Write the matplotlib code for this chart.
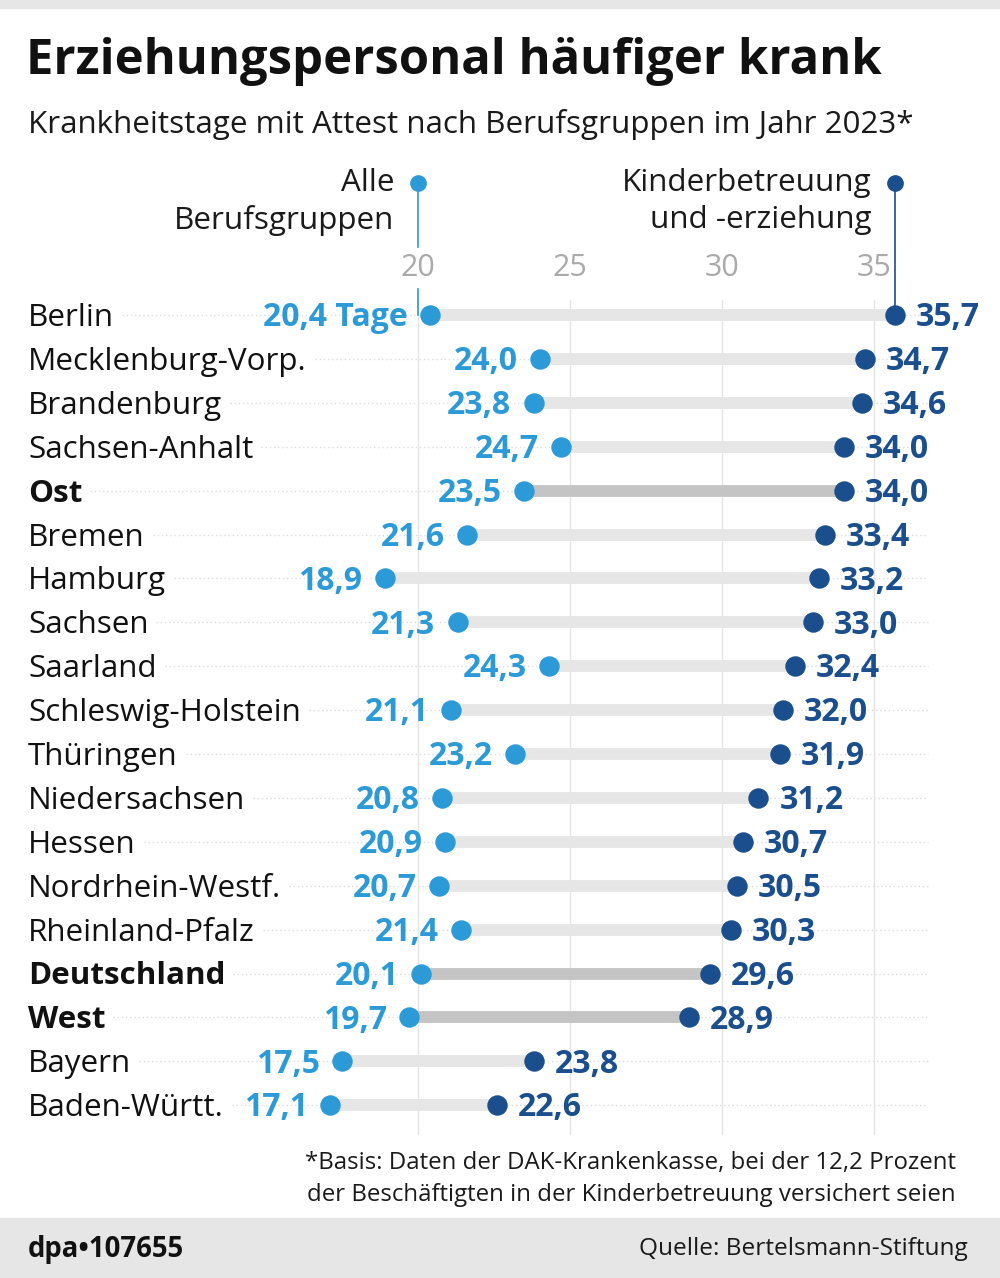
import matplotlib
matplotlib.use("Agg")
import matplotlib.pyplot as plt
from matplotlib.transforms import blended_transform_factory, ScaledTranslation
import numpy as np

plt.rcParams["font.family"] = ["Open Sans", "DejaVu Sans"]

regions = ["Berlin", "Mecklenburg-Vorp.", "Brandenburg", "Sachsen-Anhalt", "Ost",
           "Bremen", "Hamburg", "Sachsen", "Saarland", "Schleswig-Holstein",
           "Thüringen", "Niedersachsen", "Hessen", "Nordrhein-Westf.",
           "Rheinland-Pfalz", "Deutschland", "West", "Bayern", "Baden-Württ."]
alle = [20.4, 24.0, 23.8, 24.7, 23.5, 21.6, 18.9, 21.3, 24.3, 21.1,
        23.2, 20.8, 20.9, 20.7, 21.4, 20.1, 19.7, 17.5, 17.1]
kita = [35.7, 34.7, 34.6, 34.0, 34.0, 33.4, 33.2, 33.0, 32.4, 32.0,
        31.9, 31.2, 30.7, 30.5, 30.3, 29.6, 28.9, 23.8, 22.6]
totals = ["Ost", "Deutschland", "West"]
ticks = [20, 25, 30, 35]

LIGHT = "#2c9ad6"
DARK = "#1a4e8c"
TXT = "#1a1a1a"
W, H = 1000, 1278

fig = plt.figure(figsize=(W / 100, H / 100), dpi=100)
ax = fig.add_axes([0, 0, 1, 1])
# x: 20 -> 418 px, 30.4 px per unit ; rows: 315 px + 43.9 px per row
ppu = 30.4
ax.set_xlim(20 - 418 / ppu, 20 + (W - 418) / ppu)
ax.set_ylim((H - 315) / 43.9, -315 / 43.9)
ax.axis("off")

def fy(px):
    return 1 - px / H

def fx(px):
    return px / W

# grey bands top and bottom
fig.patches.append(plt.Rectangle((0, fy(8)), 1, 8 / H, transform=fig.transFigure,
                                 color="#e6e6e6", zorder=0))
fig.patches.append(plt.Rectangle((0, 0), 1, 60 / H, transform=fig.transFigure,
                                 color="#e6e6e6", zorder=0))

fig.text(fx(26), fy(62), "Erziehungspersonal häufiger krank", fontsize=35.3,
         fontweight="bold", va="center", ha="left", color="#111111")
fig.text(fx(28), fy(124), "Krankheitstage mit Attest nach Berufsgruppen im Jahr 2023*",
         fontsize=22.6, va="center", ha="left", color=TXT)

# gridlines + tick labels
for t in ticks:
    ax.plot([t, t], [-0.35, len(regions) - 0.35], color="#e4e4e4", lw=1, zorder=1)
    ax.text(t, -1.07, str(t), ha="center", va="center", fontsize=22,
            color="#aaaaaa")

# legend
yl1, yl2 = (183 - 315) / 43.9, (220 - 315) / 43.9
ax.plot([20, 20], [yl1, -1.55], color=LIGHT, lw=1.2, zorder=2)
ax.plot([20, 20], [-0.6, 0], color=LIGHT, lw=1.2, zorder=2)
ax.plot([35.7, 35.7], [yl1, 0], color=DARK, lw=1.2, zorder=2)
ax.plot([20], [yl1], "o", color=LIGHT, ms=11, zorder=3)
ax.plot([35.7], [yl1], "o", color=DARK, ms=11, zorder=3)
ax.annotate("Alle", (20, yl1), xytext=(-17, 0), textcoords="offset points",
            ha="right", va="center", fontsize=22.6, color=TXT)
ax.annotate("Berufsgruppen", (20, yl2), xytext=(-17, 0), textcoords="offset points",
            ha="right", va="center", fontsize=22.6, color=TXT)
ax.annotate("Kinderbetreuung", (35.7, yl1), xytext=(-17, 0), textcoords="offset points",
            ha="right", va="center", fontsize=22.6, color=TXT)
ax.annotate("und -erziehung", (35.7, yl2), xytext=(-17, 0), textcoords="offset points",
            ha="right", va="center", fontsize=22.6, color=TXT)

# row texts sit a few pixels lower than the line centre
nudge = ScaledTranslation(0, -3 / 100, fig.dpi_scale_trans)
lab_tr = blended_transform_factory(fig.transFigure, ax.transData) + nudge
labels = []
for i, name in enumerate(regions):
    bold = name in totals
    bar_col = "#c4c4c4" if bold else "#e6e6e6"
    ax.plot([alle[i], kita[i]], [i, i], color=bar_col, lw=8.5, solid_capstyle="butt", zorder=2)
    ax.plot(alle[i], i, "o", color=LIGHT, ms=13.7, zorder=4)
    ax.plot(kita[i], i, "o", color=DARK, ms=13.7, zorder=4)
    lab = f"{alle[i]:.1f}".replace(".", ",")
    if i == 0:
        lab += " Tage"
    ax.annotate(lab, (alle[i], i), xytext=(-16, -2), textcoords="offset points",
                ha="right", va="center", fontsize=23, fontweight="bold", color=LIGHT)
    ax.annotate(f"{kita[i]:.1f}".replace(".", ","), (kita[i], i), xytext=(15, -2),
                textcoords="offset points", ha="left", va="center", fontsize=23,
                fontweight="bold", color=DARK)
    t = fig.text(fx(28), i, name, fontsize=22.6, va="center", ha="left",
                 fontweight="bold" if bold else "normal", color="#111111",
                 transform=lab_tr)
    labels.append(t)

# faint dotted leader lines after the labels
fig.canvas.draw()
inv = ax.transData.inverted()
for i, t in enumerate(labels):
    bb = t.get_window_extent()
    x0 = inv.transform((bb.x1 + 8, 0))[0]
    x1 = inv.transform((928, 0))[0]
    ax.plot([x0, x1], [i, i], color="#dcdcdc", lw=1, ls=(0, (1, 2)), zorder=0)

fig.text(fx(956), fy(1163), "*Basis: Daten der DAK-Krankenkasse, bei der 12,2 Prozent",
         ha="right", va="center", fontsize=17.3, color=TXT)
fig.text(fx(956), fy(1195), "der Beschäftigten in der Kinderbetreuung versichert seien",
         ha="right", va="center", fontsize=17.3, color=TXT)
fig.text(fx(28), fy(1249), "dpa\u2022107655", ha="left", va="center", fontsize=19.8,
         fontweight="bold", color="#111111")
fig.text(fx(968), fy(1249), "Quelle: Bertelsmann-Stiftung", ha="right", va="center",
         fontsize=17.6, color=TXT)

fig.savefig("out.png", dpi=100)
